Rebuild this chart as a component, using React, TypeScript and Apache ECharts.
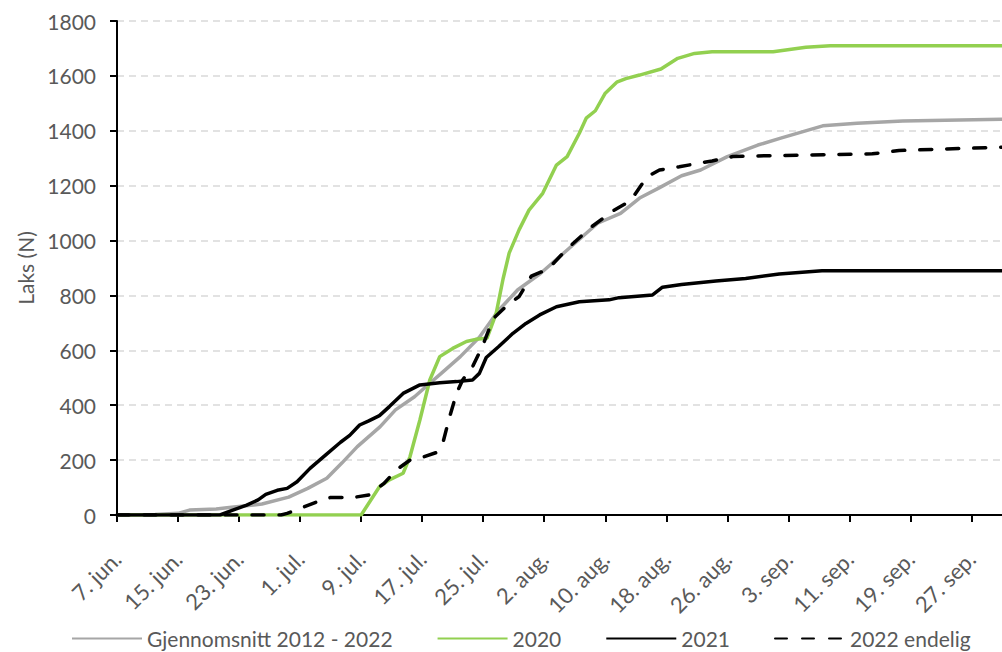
import React, { useEffect, useRef } from "react";
import * as echarts from "echarts";

// x values are days after 7. jun.
const xTickDays = [0, 8, 16, 24, 32, 40, 48, 56, 64, 72, 80, 88, 96, 104, 112];
const xTickLabels = [
  "7. jun.", "15. jun.", "23. jun.", "1. jul.", "9. jul.", "17. jul.", "25. jul.",
  "2. aug.", "10. aug.", "18. aug.", "26. aug.", "3. sep.", "11. sep.", "19. sep.", "27. sep.",
];
const seriesNames = ["Gjennomsnitt 2012 - 2022", "2020", "2021", "2022 endelig"];

const avgDays = [0, 5, 8, 9.5, 13, 15, 19, 22.5, 25, 27.5, 29.5, 31.5, 34.5, 36.5, 39, 41, 42.5, 45, 47.5, 50, 52.5, 55.5, 58, 60.5, 63, 66, 68.5, 71, 74, 76.5, 80, 84, 87, 92.5, 97, 103, 116];
const avgValues = [0, 2, 6, 18, 22, 28, 40, 65, 97, 134, 190, 249, 322, 383, 431, 480, 516, 577, 648, 745, 820, 880, 941, 1002, 1063, 1099, 1155, 1191, 1236, 1257, 1306, 1348, 1373, 1418, 1427, 1436, 1442];

const y2020Days = [0, 32, 34.4, 35.7, 37.5, 38.4, 39.7, 41, 42.3, 44, 45.8, 47, 48.5, 49.7, 50.6, 51.4, 52.7, 54, 55.8, 57.6, 59, 60.6, 61.5, 62.7, 64, 65.5, 66.7, 68.5, 71.3, 73.5, 75.7, 78, 86, 90.3, 93.5, 116];
const y2020Values = [0, 0, 103, 128, 152, 212, 346, 492, 577, 607, 632, 640, 644, 735, 860, 954, 1039, 1111, 1172, 1275, 1306, 1391, 1446, 1473, 1537, 1577, 1590, 1603, 1625, 1664, 1682, 1688, 1688, 1704, 1710, 1710];

const y2021Days = [0, 13.5, 15, 17, 18.5, 19.5, 21, 22.3, 23.6, 25.3, 27.4, 29.3, 30.5, 31.8, 33, 34.4, 35.7, 37.5, 39.7, 42.3, 44.5, 46.6, 47.5, 48.4, 50, 51.9, 53.6, 55.4, 57.6, 60.6, 64.5, 65.8, 70.2, 71.5, 74, 78.5, 82.4, 86.8, 92.4, 116];
const y2021Values = [0, 0, 16, 36, 55, 75, 90, 97, 121, 170, 220, 265, 290, 328, 343, 362, 395, 443, 474, 482, 486, 492, 516, 574, 613, 662, 698, 729, 759, 777, 784, 792, 802, 830, 840, 853, 862, 878, 890, 890];

const y2022Days = [0, 21.5, 22.3, 24, 26.2, 28, 31, 33, 35, 36.6, 38.4, 40, 41.8, 42.7, 43.6, 44.5, 45.3, 46.6, 47.9, 49.3, 51, 52.7, 54.3, 56.5, 59, 62.2, 65, 67.3, 69.5, 71.1, 73.7, 78, 80.7, 85, 94.6, 99, 102.5, 107.7, 116];
const y2022Values = [0, 0, 6, 24, 48, 64, 64, 73, 115, 164, 200, 210, 227, 261, 358, 443, 492, 540, 615, 715, 760, 796, 870, 896, 970, 1050, 1108, 1145, 1233, 1257, 1269, 1290, 1306, 1309, 1314, 1316, 1328, 1333, 1340];

const pair = (d: number[], v: number[]) => d.map((x, i) => [x, v[i]]);

const FONT = "Lato";
const TXT = "#595959";

export default function App() {
  const ref = useRef<HTMLDivElement>(null);
  useEffect(() => {
    if (!ref.current) return;
    const chart = echarts.init(ref.current, null, { renderer: "svg" });
    const labelMap: Record<number, string> = {};
    xTickDays.forEach((d, i) => (labelMap[d] = xTickLabels[i]));
    chart.setOption({
      animation: false,
      textStyle: { fontFamily: FONT },
      grid: { left: 117, right: 0, top: 21, bottom: 137, containLabel: false },
      legend: {
        left: 66,
        top: 623,
        itemWidth: 70,
        itemHeight: 14,
        itemGap: 44,
        itemStyle: { opacity: 0 },
        textStyle: { fontFamily: FONT, fontSize: 21, color: TXT },
        data: seriesNames,
      },
      xAxis: {
        type: "value",
        min: 0,
        max: 116,
        interval: 8,
        axisLine: { lineStyle: { color: "#000", width: 2 } },
        axisTick: { length: 7, lineStyle: { color: "#000", width: 2 }, customValues: xTickDays },
        axisLabel: {
          customValues: xTickDays,
          formatter: (v: number) => labelMap[v] ?? "",
          rotate: 45,
          margin: 40,
          fontFamily: FONT,
          fontSize: 22,
          color: TXT,
        },
        splitLine: { show: false },
      },
      yAxis: {
        type: "value",
        min: 0,
        max: 1800,
        interval: 200,
        name: "Laks (N)",
        nameLocation: "middle",
        nameGap: 80,
        nameTextStyle: { fontFamily: FONT, fontSize: 21, color: TXT },
        axisLine: { show: true, lineStyle: { color: "#000", width: 2 } },
        axisTick: { show: true, length: 7, lineStyle: { color: "#000", width: 2 } },
        axisLabel: { margin: 21, fontFamily: FONT, fontSize: 21, color: TXT, formatter: (v: number) => String(v) },
        splitLine: { lineStyle: { color: "#D9D9D9", width: 1.5, type: [7, 5] } },
      },
      series: [
        {
          name: seriesNames[0], type: "line", symbol: "none",
          data: pair(avgDays, avgValues),
          lineStyle: { color: "#A6A6A6", width: 3.5 }, itemStyle: { color: "#A6A6A6" },
        },
        {
          name: seriesNames[1], type: "line", symbol: "none",
          data: pair(y2020Days, y2020Values),
          lineStyle: { color: "#92D050", width: 3.5 }, itemStyle: { color: "#92D050" },
        },
        {
          name: seriesNames[2], type: "line", symbol: "none",
          data: pair(y2021Days, y2021Values),
          lineStyle: { color: "#000000", width: 3.5 }, itemStyle: { color: "#000000" },
        },
        {
          name: seriesNames[3], type: "line", symbol: "none",
          data: pair(y2022Days, y2022Values),
          lineStyle: { color: "#000000", width: 3.5, type: [12, 15], cap: "round" }, itemStyle: { color: "#000000" },
        },
      ],
    });
    return () => chart.dispose();
  }, []);
  return (
    <div
      ref={ref}
      style={{ position: "fixed", left: 0, top: 0, width: 1002, height: 652, background: "#fff" }}
    />
  );
}
